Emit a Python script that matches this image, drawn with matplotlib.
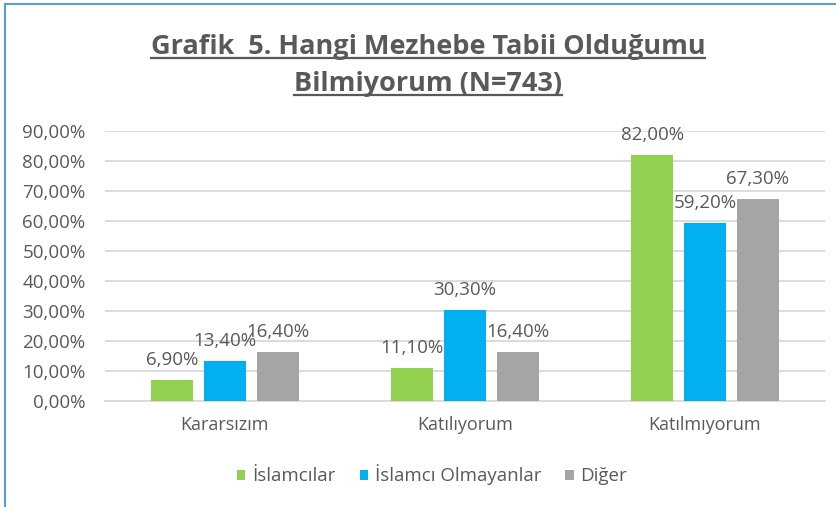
import matplotlib
matplotlib.use("Agg")
import matplotlib.pyplot as plt
from matplotlib.lines import Line2D
import numpy as np

categories = ["Kararsızım", "Katılıyorum", "Katılmıyorum"]
series_names = ["İslamcılar", "İslamcı Olmayanlar", "Diğer"]
islamcilar = [6.9, 11.1, 82.0]
olmayanlar = [13.4, 30.3, 59.2]
diger = [16.4, 16.4, 67.3]
yticks = [0, 10, 20, 30, 40, 50, 60, 70, 80, 90]

colors = ["#92D050", "#00B0F0", "#A5A5A5"]
txt = "#595959"
FONT = "Open Sans"

W, H = 837, 507
fig = plt.figure(figsize=(W / 100, H / 100), dpi=100)
ax = fig.add_axes([105 / W, (H - 401) / H, 720 / W, 270 / H])

x = np.arange(len(categories))
width = 0.175
offs = [-0.22, 0.0, 0.22]
for vals, c, o, name in zip([islamcilar, olmayanlar, diger], colors, offs, series_names):
    bars = ax.bar(x + o, vals, width, color=c, label=name, zorder=3)
    for b, v in zip(bars, vals):
        ax.annotate(f"{v:.2f}%".replace(".", ","),
                    (b.get_x() + b.get_width() / 2, v),
                    xytext=(0, 8), textcoords="offset points",
                    ha="center", va="bottom", fontsize=13.5, color=txt,
                    family=FONT, zorder=4)

ax.set_xlim(-0.5, 2.5)
ax.set_ylim(0, 90)
ax.set_yticks(yticks)
ax.set_yticklabels([f"{t:.2f}%".replace(".", ",") for t in yticks],
                   fontsize=13.5, color=txt, family=FONT)
ax.set_xticks(x)
ax.set_xticklabels(categories, fontsize=13, color=txt, family=FONT)
ax.tick_params(axis="both", length=0)
ax.tick_params(axis="y", pad=14)
ax.tick_params(axis="x", pad=11)
ax.grid(axis="y", color="#D9D9D9", linewidth=1.3, zorder=0)
for s in ["top", "right", "left"]:
    ax.spines[s].set_visible(False)
ax.spines["bottom"].set_color("#D9D9D9")
ax.spines["bottom"].set_linewidth(1.3)

leg = fig.legend(loc="center", bbox_to_anchor=(432 / W, (H - 475) / H), ncol=3,
                 frameon=False, prop={"family": FONT, "size": 13.5},
                 handlelength=0.45, handleheight=0.45, handletextpad=0.35,
                 columnspacing=1.3)
for t in leg.get_texts():
    t.set_color(txt)

t1 = fig.text(428 / W, (H - 47) / H, "Grafik  5. Hangi Mezhebe Tabii Olduğumu",
              ha="center", va="center", fontsize=19.5, fontweight="bold",
              color=txt, family=FONT)
t2 = fig.text(428 / W, (H - 84) / H, "Bilmiyorum (N=743)",
              ha="center", va="center", fontsize=19.5, fontweight="bold",
              color=txt, family=FONT)

fig.canvas.draw()
r = fig.canvas.get_renderer()
for t in (t1, t2):
    bb = t.get_window_extent(r)
    yline = bb.y0 + 2
    fig.add_artist(Line2D([bb.x0 / W, bb.x1 / W], [yline / H, yline / H],
                          transform=fig.transFigure, color=txt, linewidth=1.6))

# chart frame border (left and top)
fig.add_artist(Line2D([5.5 / W, 5.5 / W], [0, (H - 3.5) / H],
                      transform=fig.transFigure, color="#5B9BD5", linewidth=1.5))
fig.add_artist(Line2D([5.5 / W, 1], [(H - 3.5) / H, (H - 3.5) / H],
                      transform=fig.transFigure, color="#5B9BD5", linewidth=1.5))

fig.savefig("out.png", dpi=100)
